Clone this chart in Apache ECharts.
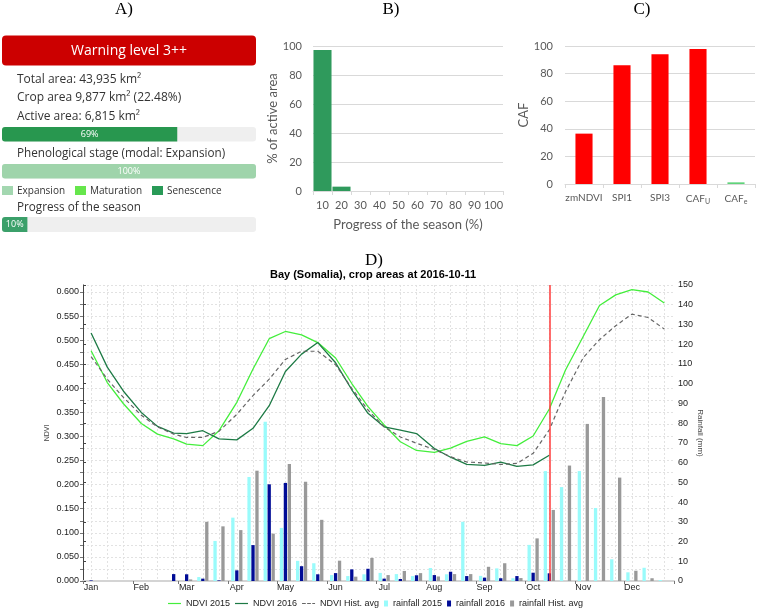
<!DOCTYPE html>
<html><head><meta charset="utf-8">
<script src="https://cdn.jsdelivr.net/npm/echarts@6/dist/echarts.min.js"></script>
<style>html,body{margin:0;padding:0;background:#fff}#c{width:758px;height:610px}</style>
</head><body><div id="c"></div><script>
// ---------- Panel A ----------
const activePct = [69];
const stagePct = [100];
const seasonPct = [10];
// ---------- Panel B ----------
const progressCats = ['10','20','30','40','50','60','70','80','90','100'];
const progressVals = [97.2, 3, 0, 0, 0, 0, 0, 0, 0, 0];
// ---------- Panel C ----------
const cafCats = ['zmNDVI','SPI1','SPI3','CAF_U','CAF_e'];
const cafVals = [36.5, 86, 94, 97.8, 1.2];
// ---------- Panel D ----------
const dekadStart = ['01-01','01-11','01-21','02-01','02-11','02-21','03-01','03-11','03-21','04-01','04-11','04-21',
  '05-01','05-11','05-21','06-01','06-11','06-21','07-01','07-11','07-21','08-01','08-11','08-21',
  '09-01','09-11','09-21','10-01','10-11','10-21','11-01','11-11','11-21','12-01','12-11','12-21'];
const monthNames = ['Jan','Feb','Mar','Apr','May','Jun','Jul','Aug','Sep','Oct','Nov','Dec'];
const ndvi2015 = [0.478,0.412,0.368,0.327,0.305,0.295,0.284,0.281,0.312,0.371,0.440,0.503,0.518,0.511,0.495,0.463,0.410,0.362,
  0.324,0.289,0.271,0.267,0.276,0.290,0.299,0.285,0.281,0.301,0.357,0.438,0.508,0.572,0.594,0.605,0.600,0.577];
const ndvi2016 = [0.515,0.444,0.394,0.350,0.321,0.307,0.306,0.312,0.295,0.293,0.317,0.364,0.435,0.471,0.495,0.453,0.397,0.348,
  0.320,0.313,0.306,0.275,0.257,0.242,0.240,0.247,0.238,0.241,0.261];
const ndviAvg = [0.466,0.419,0.381,0.344,0.320,0.305,0.298,0.298,0.311,0.346,0.385,0.419,0.460,0.477,0.477,0.449,0.400,0.355,
  0.320,0.299,0.286,0.273,0.258,0.247,0.245,0.242,0.244,0.265,0.314,0.393,0.464,0.501,0.530,0.554,0.547,0.523];
const rain2015 = [0,0,0,0,0,0,0,2.0,20.3,32.1,52.7,80.7,26.9,10.2,9.0,3.0,2.5,3.4,4.1,3.5,2.5,6.6,3.4,30.0,2.6,6.4,1.4,18.3,
  55.7,47.6,55.7,37,11,4.4,6.7,0.5];
const rain2016 = [0.3,0,0,0,0,3.5,3.4,1.2,0.3,5.4,18.2,49.0,49.7,7.5,3.4,4.0,5.9,6.2,1.2,1.0,2.9,3.0,4.7,2.5,1.7,1.4,2.5,4.2,3.9];
const rainAvg = [0,0,0,0,0,0,0.8,30.0,27.7,25.8,55.9,24.0,59.3,50.3,31.0,10.3,2.2,11.7,3.0,5.1,4.0,2.3,3.5,3.5,7.2,9.0,1.5,
  21.6,36.0,58.5,79.6,93.2,52.4,5.2,1.4,0];
const currentDekad = 28;
const ndviTicks = [0,0.05,0.1,0.15,0.2,0.25,0.3,0.35,0.4,0.45,0.5,0.55,0.6];

// day of year helpers (dekad mid-point)
const doy = s => { const [m, d] = s.split('-').map(Number); return (Date.UTC(2015, m - 1, d) - Date.UTC(2015, 0, 1)) / 864e5; };
const dekadX = dekadStart.map(s => doy(s) + 5);
const monthStart = dekadStart.filter((s, i) => i % 3 === 0).map(doy).concat([365]);
const monthLabelAt = {};
dekadX.forEach((x, i) => { if (i % 3 === 0) monthLabelAt[x] = monthNames[i / 3]; });
const pts = arr => arr.map((v, i) => [dekadX[i], v]);

const chart = echarts.init(document.getElementById('c'), null, {renderer: 'canvas'});
const xl = '#595959';
const sans = '"Liberation Sans", Arial, sans-serif';
const uiFont = '"Open Sans", "Noto Sans", sans-serif';
const serifT = {fontFamily: '"Liberation Serif", serif', fontWeight: 'normal', fontSize: 17, color: '#000'};
const lineIcon = 'path://M0,0H14V1.3H0Z';
const dashIcon = 'path://M0,0H4V1.3H0ZM5.5,0H9.5V1.3H5.5ZM11,0H14V1.3H11Z';
const sqIcon = 'path://M0,0H4V6H0Z';

function aBar(gi, vals, fill, fullRound) {
  return {
    type: 'bar', xAxisIndex: gi, yAxisIndex: gi, data: vals, barWidth: '100%',
    showBackground: true, backgroundStyle: {color: '#efefef', borderRadius: 3},
    itemStyle: {color: fill, borderRadius: fullRound ? 3 : [3, 0, 0, 3]},
    label: {show: true, position: 'inside', formatter: '{c}%', color: '#fff', fontSize: 9, fontFamily: uiFont},
    silent: true
  };
}
const aFont = '12px "Open Sans", sans-serif';
const aText = (x, y, t, font) => ({type: 'text', x, y, silent: true,
  style: {text: t, fill: '#333', font: font || aFont, verticalAlign: 'middle'}});

const option = {
  animation: false,
  backgroundColor: '#fff',
  title: [
    {text: 'A)', left: 124, top: 1, padding: 0, textAlign: 'center', textStyle: serifT},
    {text: 'B)', left: 391, top: 1, padding: 0, textAlign: 'center', textStyle: serifT},
    {text: 'C)', left: 642, top: 1, padding: 0, textAlign: 'center', textStyle: serifT},
    {text: 'D)', left: 374, top: 252, padding: 0, textAlign: 'center', textStyle: serifT},
    {text: 'Bay (Somalia), crop areas at 2016-10-11', left: 373, top: 269, padding: 0, textAlign: 'center',
      textStyle: {fontFamily: sans, fontWeight: 'bold', fontSize: 11, color: '#000'}}
  ],
  legend: [
    {data: [{name: 'NDVI 2015', icon: lineIcon}, {name: 'NDVI 2016', icon: lineIcon}, {name: 'NDVI Hist. avg', icon: dashIcon}],
      left: 168, top: 599, itemWidth: 13, itemHeight: 6, itemGap: 5, padding: 0,
      textStyle: {fontFamily: sans, fontSize: 9, color: '#222'}, selectedMode: false},
    {data: [{name: 'rainfall 2015', icon: sqIcon}, {name: 'rainfall 2016', icon: sqIcon}, {name: 'rainfall Hist. avg', icon: sqIcon}],
      left: 384, top: 599, itemWidth: 4, itemHeight: 6, itemGap: 5, padding: 0,
      textStyle: {fontFamily: sans, fontSize: 9, color: '#222'}, selectedMode: false}
  ],
  grid: [
    {left: 313, right: 255, top: 46, bottom: 419, outerBoundsMode: 'none', containLabel: false},
    {left: 565, right: 3, top: 46, bottom: 426, outerBoundsMode: 'none', containLabel: false},
    {left: 83, right: 84, top: 285, bottom: 29, outerBoundsMode: 'none', containLabel: false},
    {left: 2, width: 254, top: 127, height: 14.5, outerBoundsMode: 'none', containLabel: false},
    {left: 2, width: 254, top: 164, height: 14.5, outerBoundsMode: 'none', containLabel: false},
    {left: 2, width: 254, top: 217, height: 15, outerBoundsMode: 'none', containLabel: false}
  ],
  xAxis: [
    {gridIndex: 0, type: 'category', data: progressCats, name: 'Progress of the season (%)', nameLocation: 'middle', nameGap: 27,
      nameMoveOverlap: false,
      nameTextStyle: {fontFamily: 'Lato, sans-serif', fontSize: 13, color: xl},
      axisLine: {lineStyle: {color: '#d9d9d9'}}, axisTick: {show: true, length: 4, lineStyle: {color: '#d9d9d9'}},
      axisLabel: {color: xl, fontSize: 11, fontFamily: 'Lato, sans-serif', margin: 9, interval: 0}},
    {gridIndex: 1, type: 'category', data: cafCats,
      axisLine: {lineStyle: {color: '#d9d9d9'}}, axisTick: {show: true, length: 4, lineStyle: {color: '#d9d9d9'}},
      axisLabel: {color: xl, fontSize: 10, fontFamily: 'Lato, sans-serif', margin: 9, interval: 0,
        formatter: v => { const p = v.split('_'); return p.length > 1 ? '{a|' + p[0] + '}{s|' + p[1] + '}' : '{a|' + v + '}'; },
        rich: {a: {fontSize: 10, fontFamily: 'Lato, sans-serif', color: xl}, s: {fontSize: 7, fontFamily: 'Lato, sans-serif', color: xl, padding: [5, 0, 0, 0]}}}},
    {gridIndex: 2, type: 'value', min: 0, max: 365,
      axisLine: {lineStyle: {color: '#999'}},
      axisTick: {show: true, length: 3, customValues: monthStart, lineStyle: {color: '#777'}},
      axisLabel: {customValues: dekadX.filter((x, i) => i % 3 === 0), formatter: v => monthLabelAt[v] || '',
        fontFamily: sans, fontSize: 9, color: '#222', margin: 2},
      splitLine: {show: false}},
    {gridIndex: 2, type: 'value', min: 0, max: 365, position: 'top',
      axisLine: {show: true, lineStyle: {color: '#d4d4d4', width: 2}},
      axisTick: {show: false, customValues: dekadX}, axisLabel: {show: false},
      splitLine: {show: true, lineStyle: {color: '#e2e2e2', type: [2, 2], width: 1}}},
    {gridIndex: 3, type: 'value', min: 0, max: 100, show: false},
    {gridIndex: 4, type: 'value', min: 0, max: 100, show: false},
    {gridIndex: 5, type: 'value', min: 0, max: 100, show: false}
  ],
  yAxis: [
    {gridIndex: 0, type: 'value', min: 0, max: 100, interval: 20, name: '% of active area', nameLocation: 'middle', nameGap: 33,
      nameTextStyle: {fontFamily: 'Lato, sans-serif', fontSize: 13, color: xl},
      axisLine: {show: false}, axisTick: {show: false},
      axisLabel: {color: xl, fontSize: 11, fontFamily: 'Lato, sans-serif', margin: 11},
      splitLine: {lineStyle: {color: '#d9d9d9'}}},
    {gridIndex: 1, type: 'value', min: 0, max: 100, interval: 20, name: 'CAF', nameLocation: 'middle', nameGap: 35,
      nameTextStyle: {fontFamily: 'Lato, sans-serif', fontSize: 13, color: xl},
      axisLine: {show: false}, axisTick: {show: false},
      axisLabel: {color: xl, fontSize: 11, fontFamily: 'Lato, sans-serif', margin: 12},
      splitLine: {lineStyle: {color: '#d9d9d9'}}},
    {gridIndex: 2, type: 'value', min: 0, max: 0.6145, interval: 0.025, name: 'NDVI', nameLocation: 'middle', nameGap: 32,
      nameMoveOverlap: false,
      nameTextStyle: {fontFamily: sans, fontSize: 7, color: '#444'},
      axisLine: {show: true, lineStyle: {color: '#aaa'}}, axisTick: {show: true, length: 3, lineStyle: {color: '#777'}},
      axisLabel: {fontFamily: sans, fontSize: 9, color: '#222', margin: 4, showMaxLabel: false,
        formatter: v => { const k = Math.round(v * 1000); return ndviTicks.some(t => Math.round(t * 1000) === k) ? v.toFixed(3) : ''; }},
      splitLine: {show: true, lineStyle: {color: '#e2e2e2', type: [2, 2], width: 1}}},
    {gridIndex: 2, type: 'value', min: 0, max: 150, interval: 10, position: 'right', name: 'Rainfall (mm)', nameLocation: 'middle',
      nameGap: 22, nameRotate: -90, nameMoveOverlap: false, nameTextStyle: {fontFamily: sans, fontSize: 8, color: '#444'},
      axisLine: {show: true, lineStyle: {color: '#444'}}, axisTick: {show: true, length: 3, lineStyle: {color: '#444'}},
      axisLabel: {fontFamily: sans, fontSize: 9, color: '#222', margin: 4}, splitLine: {show: false}},
    {gridIndex: 3, type: 'category', data: ['a'], show: false},
    {gridIndex: 4, type: 'category', data: ['a'], show: false},
    {gridIndex: 5, type: 'category', data: ['a'], show: false}
  ],
  series: [
    {type: 'bar', xAxisIndex: 0, yAxisIndex: 0, data: progressVals, barCategoryGap: '5%', itemStyle: {color: '#2f9a5c'}, silent: true},
    {type: 'bar', xAxisIndex: 1, yAxisIndex: 1, barCategoryGap: '55%', silent: true,
      data: cafVals.map((v, i) => ({value: v, itemStyle: {color: cafCats[i] === 'CAF_e' ? '#5fd37a' : '#ff0000'}}))},
    {name: 'rainfall 2015', type: 'bar', xAxisIndex: 2, yAxisIndex: 3, data: pts(rain2015), barWidth: 3.3, barGap: '20%',
      itemStyle: {color: '#99fbfb'}, z: 2, silent: true},
    {name: 'rainfall 2016', type: 'bar', xAxisIndex: 2, yAxisIndex: 3, data: pts(rain2016), barWidth: 3.3, barGap: '20%',
      itemStyle: {color: '#000c96'}, z: 2, silent: true},
    {name: 'rainfall Hist. avg', type: 'bar', xAxisIndex: 2, yAxisIndex: 3, data: pts(rainAvg), barWidth: 3.3, barGap: '20%',
      itemStyle: {color: '#999999'}, z: 2, silent: true},
    {name: 'NDVI 2015', type: 'line', xAxisIndex: 2, yAxisIndex: 2, data: pts(ndvi2015), symbol: 'none', z: 4,
      lineStyle: {color: '#44ee3c', width: 1.3}, itemStyle: {color: '#44ee3c'}, silent: true},
    {name: 'NDVI 2016', type: 'line', xAxisIndex: 2, yAxisIndex: 2, data: pts(ndvi2016), symbol: 'none', z: 4,
      lineStyle: {color: '#1d7a45', width: 1.3}, itemStyle: {color: '#1d7a45'}, silent: true,
      markLine: {silent: true, symbol: ['none', 'none'], label: {show: false},
        lineStyle: {color: '#ff3b3b', width: 1.5, type: 'solid'}, data: [{xAxis: dekadX[currentDekad]}]}},
    {name: 'NDVI Hist. avg', type: 'line', xAxisIndex: 2, yAxisIndex: 2, data: pts(ndviAvg), symbol: 'none', z: 4,
      lineStyle: {color: '#666666', width: 1.2, type: [4, 3]}, itemStyle: {color: '#666666'}, silent: true},
    aBar(4, activePct, '#28974f', false),
    aBar(5, stagePct, '#9fd4ab', true),
    aBar(6, seasonPct, '#3ba06a', false)
  ],
  graphic: [
    {type: 'rect', shape: {x: 2, y: 35.5, width: 254, height: 30, r: 4}, style: {fill: '#cc0000'}, silent: true},
    {type: 'text', x: 129, y: 51, silent: true,
      style: {text: 'Warning level 3++', fill: '#fff', font: '14px "Open Sans", sans-serif', align: 'center', verticalAlign: 'middle'}},
    aText(17, 80, 'Total area: 43,935 km²'),
    aText(17, 97.5, 'Crop area 9,877 km² (22.48%)'),
    aText(17, 117, 'Active area: 6,815 km²'),
    aText(17, 154, 'Phenological stage (modal: Expansion)', '11.7px "Open Sans", sans-serif'),
    {type: 'rect', shape: {x: 2, y: 186, width: 11, height: 9}, style: {fill: '#a3d7b0'}, silent: true},
    aText(17, 191, 'Expansion', '10px "Open Sans", sans-serif'),
    {type: 'rect', shape: {x: 75, y: 186, width: 11, height: 9}, style: {fill: '#66e64c'}, silent: true},
    aText(90, 191, 'Maturation', '10px "Open Sans", sans-serif'),
    {type: 'rect', shape: {x: 152, y: 186, width: 11, height: 9}, style: {fill: '#299a57'}, silent: true},
    aText(167, 191, 'Senescence', '10px "Open Sans", sans-serif'),
    aText(17, 207.5, 'Progress of the season', '11.7px "Open Sans", sans-serif')
  ]
};
chart.setOption(option);
</script></body></html>
